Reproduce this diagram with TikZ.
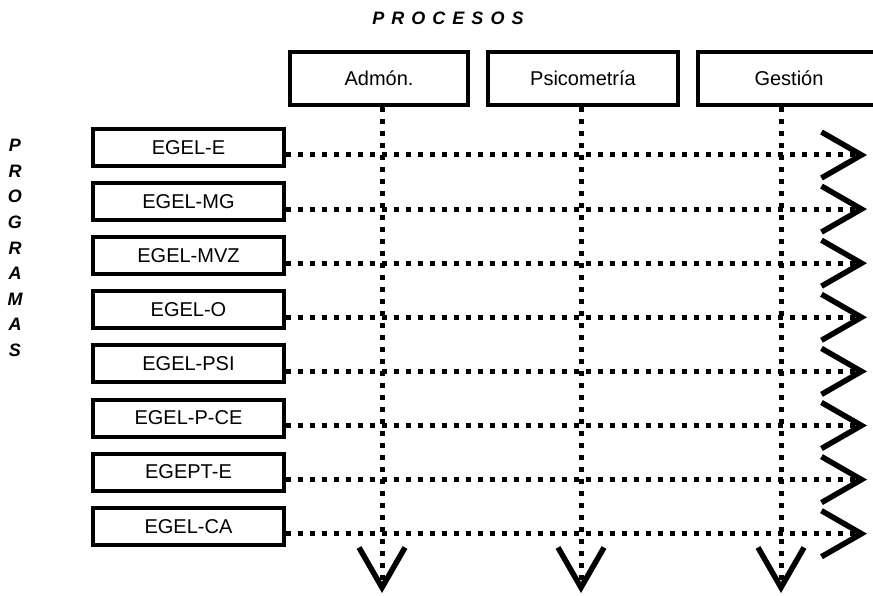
\documentclass[tikz,border=0pt]{standalone}
\usepackage{fontspec}
\setmainfont{Liberation Sans}
\usetikzlibrary{arrows.meta}
\newcommand\lgap{\hspace{7pt}}
\begin{document}
\begin{tikzpicture}[x=1pt,y=-1pt,
  prog/.style={draw, line width=4pt, minimum width=191pt, minimum height=37pt, inner sep=0pt,
    font=\fontsize{20}{22}\selectfont},
  proc/.style={draw, line width=4pt, minimum height=53pt, inner sep=0pt,
    font=\fontsize{20}{22}\selectfont},
  heading/.style={font=\fontsize{18}{25.6}\selectfont\bfseries\itshape, align=center, inner sep=0pt},
  dots/.style={line width=5pt, dash pattern=on 5pt off 7pt},
  vtip/.style={-{Straight Barb[length=40pt,width=46pt,line width=5.5pt]}}
]
\useasboundingbox (0,0) rectangle (873,596);
\clip (0,0) rectangle (873,596);

% headings
\node[heading] (title) at (448,18) {P\lgap R\lgap O\lgap C\lgap E\lgap S\lgap O\lgap S};
\node[heading] (side) at (15,248) {P\\R\\O\\G\\R\\A\\M\\A\\S};

% process boxes
\node[proc, minimum width=178pt] (adm) at (379,78.5) {Admón.};
\node[proc, minimum width=190pt] (psi) at (583,78.5) {Psicometría};
\node[proc, minimum width=182pt] (ges) at (789,78.5) {Gestión};

% program boxes
\foreach \n/\t [count=\i from 0] in {e1/EGEL-E, e2/EGEL-MG, e3/EGEL-MVZ, e4/EGEL-O,
    e5/EGEL-PSI, e6/EGEL-P-CE, e7/EGEPT-E, e8/EGEL-CA} {
  \node[prog] (\n) at (188.5, 147.5+54.1*\i) {\t};
}

% horizontal connectors
\foreach \n in {e1,e2,e3,e4,e5,e6,e7,e8} {
  \coordinate (\n end) at ([yshift=-7.5pt]\n.east -| 867,0);
  \draw[dots, vtip] ([yshift=-7.5pt]\n.east) -- (\n end);
}

% vertical connectors
\coordinate (admend) at (382,593);
\coordinate (psiend) at (581,593);
\coordinate (gesend) at (781,593);
\draw[dots, vtip] ([xshift=3pt]adm.south) -- (admend);
\draw[dots, vtip] ([xshift=-2pt]psi.south) -- (psiend);
\draw[dots, vtip] ([xshift=-8pt]ges.south) -- (gesend);
\end{tikzpicture}
\end{document}
